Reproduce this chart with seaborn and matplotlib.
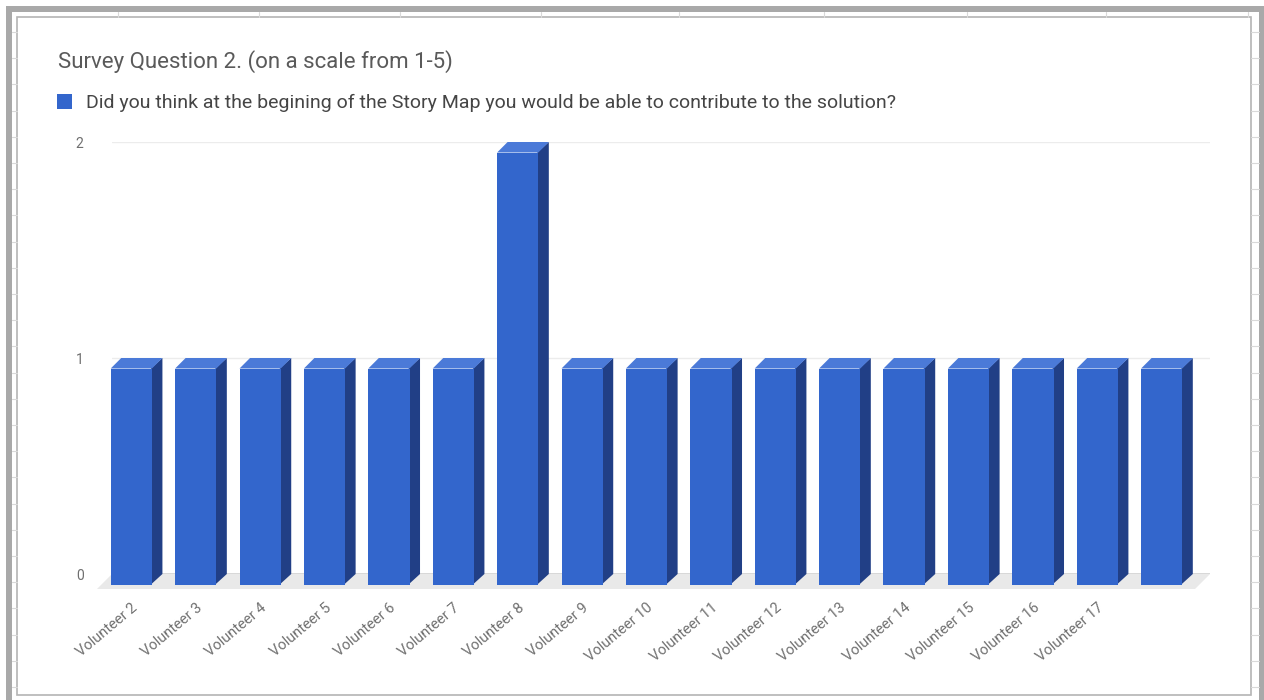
import numpy as np
import pandas as pd
import matplotlib
matplotlib.use("Agg")
import matplotlib.pyplot as plt
from matplotlib.patches import Polygon, Rectangle
from matplotlib.lines import Line2D
import seaborn as sns

# ---- data -------------------------------------------------------------
categories = [f"Volunteer {i}" for i in range(2, 18)] + [" "]
values = [1, 1, 1, 1, 1, 1, 2, 1, 1, 1, 1, 1, 1, 1, 1, 1, 1]
title = "Survey Question 2. (on a scale from 1-5)"
series_name = ("Did you think at the begining of the Story Map "
               "you would be able to contribute to the solution?")
y_ticks = [0, 1, 2]

# ---- style ------------------------------------------------------------
sns.set_theme(style="white")
plt.rcParams["font.family"] = ["Roboto", "DejaVu Sans"]

FRONT = "#3366cc"
SIDE = "#213f86"
TOP = "#4b7ad8"
W, H = 1264, 700
DPI = 100

fig = plt.figure(figsize=(W / DPI, H / DPI), dpi=DPI, facecolor="white")


def fx(px):
    return px / W


def fy(py):
    return 1 - py / H


# spreadsheet backdrop: faint grid cells around the chart box
grid_c = "#d9d9d9"
for x in [118, 259, 400, 541, 679, 824, 967, 1106, 1248]:
    fig.add_artist(Line2D([fx(x), fx(x)], [fy(12), fy(17)], color=grid_c, lw=0.8))
for y in np.arange(32, 700, 26.2):
    fig.add_artist(Line2D([fx(12), fx(17)], [fy(y), fy(y)], color=grid_c, lw=0.8))
    fig.add_artist(Line2D([fx(1251), fx(1259)], [fy(y), fy(y)], color=grid_c, lw=0.8))

# chart box border
fig.add_artist(Rectangle((fx(17), fy(695)), fx(1251 - 17), (695 - 17) / H,
                         fill=False, edgecolor="#b4b4b4", lw=1.2))
# outer thick frame (top, left, right)
frame_c = "#a9a9a9"
fig.add_artist(Rectangle((fx(6), fy(12)), 1, 6 / H, facecolor=frame_c, edgecolor="none"))
fig.add_artist(Rectangle((fx(6), 0), fx(6), fy(6), facecolor=frame_c, edgecolor="none"))
fig.add_artist(Rectangle((fx(1259), 0), 1, fy(6), facecolor=frame_c, edgecolor="none"))

# ---- plot area --------------------------------------------------------
ax_left, ax_right, ax_top, ax_bottom = 112, 1210, 142, 574
ax = fig.add_axes([fx(ax_left), fy(ax_bottom), fx(ax_right - ax_left),
                   (ax_bottom - ax_top) / H])
ax.set_facecolor("none")

df = pd.DataFrame({"participant": categories, "score": values})
sns.barplot(data=df, x="participant", y="score", order=categories,
            color=FRONT, width=0.64, saturation=1, ax=ax,
            label=series_name, zorder=5)

ax.set_ylim(0, 2)
ax.set_xlim(-0.30, 16.75)
ax.set_yticks(y_ticks)
ax.set_yticklabels([str(t) for t in y_ticks])
ax.set_xlabel("")
ax.set_ylabel("")
for s in ax.spines.values():
    s.set_visible(False)

# horizontal gridlines and baseline
for t in y_ticks[1:]:
    ax.axhline(t, color="#ececec", lw=1.0, zorder=1)
ax.axhline(0, color="#3c3c3c", lw=1.0, zorder=2)

fig.canvas.draw()
to_disp = ax.transData
to_data = ax.transData.inverted()
DEPTH = 10.5  # pixels of apparent depth


def shifted(x, y, dx_px, dy_px):
    px, py = to_disp.transform((x, y))
    return to_data.transform((px + dx_px, py + dy_px))


# floor under the bars
x0, x1 = ax.get_xlim()
floor = [shifted(x0, 0, 0, 0), shifted(x1, 0, 0, 0),
         shifted(x1, 0, -15, -15), shifted(x0, 0, -15, -15)]
ax.add_patch(Polygon(floor, closed=True, facecolor="#e9e9e9",
                     edgecolor="none", zorder=1.5, clip_on=False))

# extrude each bar: front face drops by DEPTH, top and side faces join
for bar in list(ax.patches):
    if not isinstance(bar, Rectangle) or bar.get_height() <= 0:
        continue
    bx, bw, bh = bar.get_x(), bar.get_width(), bar.get_height()
    fl_b = shifted(bx, 0, 0, -DEPTH)
    fl_t = shifted(bx, bh, 0, -DEPTH)
    fr_t = shifted(bx + bw, bh, 0, -DEPTH)
    # side face starts a hair inside the front face to avoid a seam
    sr_b = shifted(bx + bw, 0, -1, -DEPTH)
    sr_t = shifted(bx + bw, bh, -1, -DEPTH)
    br_b = shifted(bx + bw, 0, DEPTH, 0)
    br_t = shifted(bx + bw, bh, DEPTH, 0)
    bl_t = shifted(bx, bh, DEPTH, 0)
    ax.add_patch(Polygon([sr_b, br_b, br_t, sr_t], closed=True,
                         facecolor=SIDE, edgecolor="none", zorder=4, clip_on=False))
    ax.add_patch(Polygon([fl_t, fr_t, br_t, bl_t], closed=True,
                         facecolor=TOP, edgecolor="none", zorder=4, clip_on=False))
    bar.set_xy(fl_b)
    bar.set_height(fl_t[1] - fl_b[1])
    bar.set_clip_on(False)
    bar.set_edgecolor("none")
    bar.set_linewidth(0)

# tick labels
ax.tick_params(axis="y", length=0, pad=20.5, labelsize=10, labelcolor="#6f6f6f")
ax.tick_params(axis="x", length=0, pad=19, labelsize=10.5, labelcolor="#707070")
for lab in ax.get_xticklabels():
    lab.set_rotation(40)
    lab.set_ha("right")
    lab.set_va("top")
    lab.set_rotation_mode("anchor")

# title and legend
fig.text(fx(58), fy(62), title, fontsize=16, color="#5a5a5a",
         ha="left", va="center")
leg = ax.legend(loc="center left", bbox_to_anchor=(fx(57), fy(103)),
                bbox_transform=fig.transFigure, frameon=False,
                handlelength=0.78, handleheight=0.78, handletextpad=0.7,
                borderpad=0, borderaxespad=0, fontsize=14)
for txt in leg.get_texts():
    txt.set_color("#454545")

fig.savefig("out.png", dpi=DPI, facecolor="white")
